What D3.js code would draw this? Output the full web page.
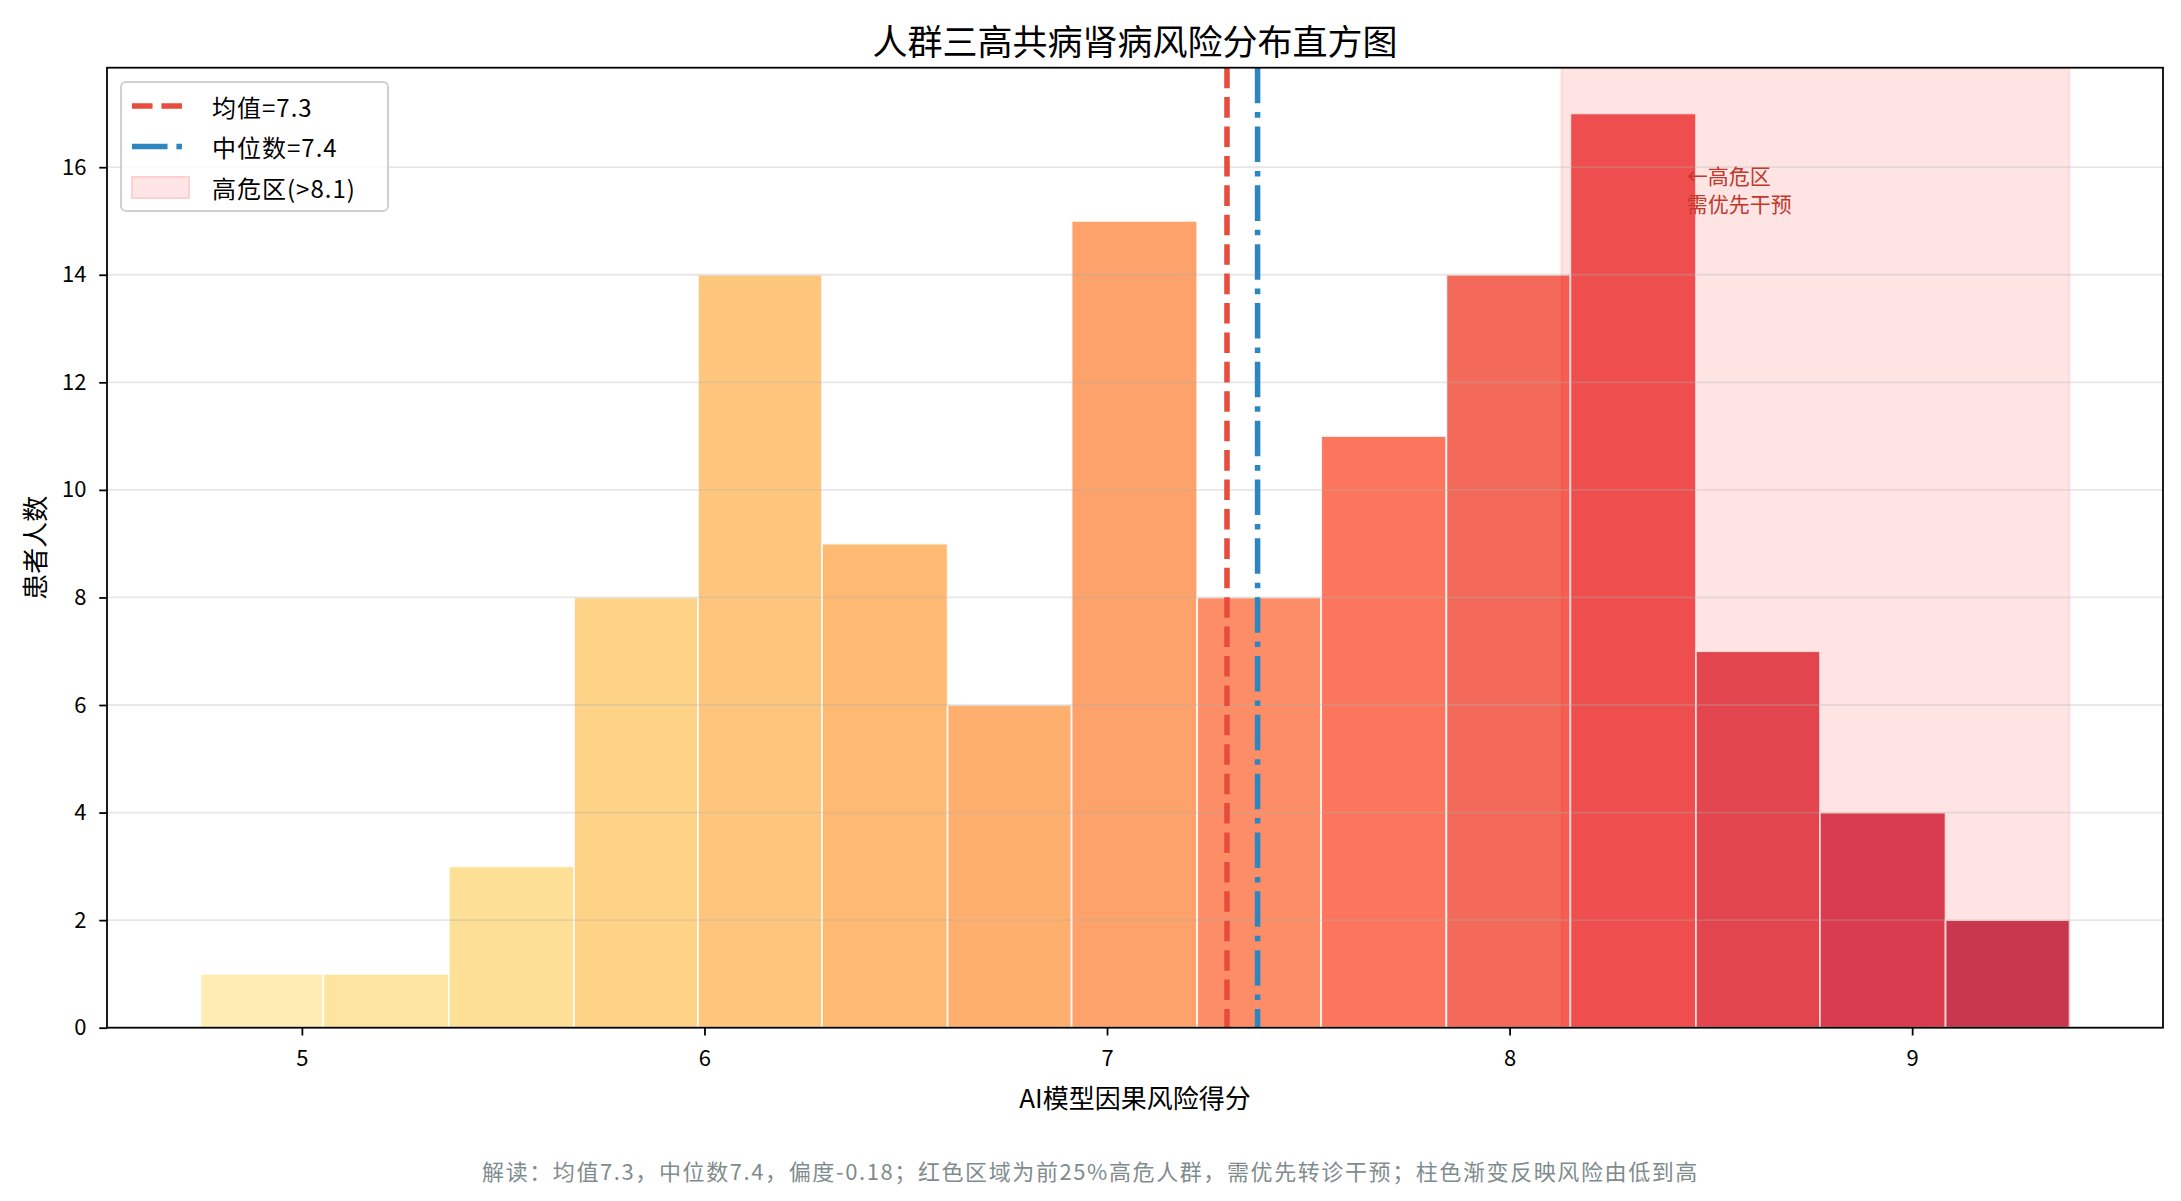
<!DOCTYPE html>
<html>
<head>
<meta charset="utf-8">
<script src="https://cdn.jsdelivr.net/npm/d3@7"></script>
<style>
    html, body { margin: 0; padding: 0; background: #fff; }
    #chart text { font-family: "Noto Sans CJK SC", "Noto Sans", sans-serif; }
</style>
</head>
<body>
<div id="chart"></div>
<script>
// ==========================================
// 人群三高共病肾病风险分布直方图
// Library: D3.js v7
// ==========================================

// --- DATA ---
const binEdges = [4.748, 5.053, 5.365, 5.676, 5.984, 6.292, 6.604, 6.912,
                  7.224, 7.532, 7.843, 8.151, 8.463, 8.771, 9.083, 9.391];
const binCounts = [1, 1, 3, 8, 14, 9, 6, 15, 8, 11, 14, 17, 7, 4, 2];
const meanScore = 7.298;
const medianScore = 7.374;
const p75Score = 8.129;
const skewness = -0.18;
const xTicks = [5, 6, 7, 8, 9];
const yTicks = [0, 2, 4, 6, 8, 10, 12, 14, 16];
const annotPos = [8.44, 15.85];

// bar palette, low risk -> high risk
const barColors = ["#feecb3", "#fde5a1", "#fddf95", "#fed287", "#fec67c",
                   "#feb973", "#feaf6e", "#fca26a", "#fd8d66", "#fc765d",
                   "#f36a5a", "#ed5858", "#df4e58", "#d54359", "#c23e58"];

const initChart = () => {
    const W = 2181, H = 1201;
    const m = { left: 107, right: 2163, top: 67.7, bottom: 1027.7 };
    const pt = 2.22; // px per point

    const svg = d3.select("#chart")
        .append("svg")
        .attr("width", W)
        .attr("height", H)
        .attr("viewBox", [0, 0, W, H]);

    const bins = binCounts.map((c, i) => ({ x0: binEdges[i], x1: binEdges[i + 1], n: c, i }));

    // matplotlib style 5% margins on x
    const lo = d3.min(binEdges), hi = d3.max(binEdges);
    const pad = (hi - lo) * 0.05;
    const x = d3.scaleLinear().domain([lo - pad, hi + pad]).range([m.left, m.right]);
    const yMax = d3.max(binCounts) * 1.05;
    const y = d3.scaleLinear().domain([0, yMax]).range([m.bottom, m.top]);

    // --- BARS ---
    svg.append("g")
        .selectAll("rect")
        .data(bins)
        .join("rect")
        .attr("x", d => x(d.x0))
        .attr("y", d => y(d.n))
        .attr("width", d => x(d.x1) - x(d.x0))
        .attr("height", d => y(0) - y(d.n))
        .attr("fill", d => barColors[d.i])
        .attr("stroke", "#fff")
        .attr("stroke-opacity", 0.85)
        .attr("stroke-width", 0.8 * pt);

    // --- HIGH RISK ZONE ---
    svg.append("rect")
        .attr("x", x(p75Score))
        .attr("y", m.top)
        .attr("width", x(hi) - x(p75Score))
        .attr("height", m.bottom - m.top)
        .attr("fill", "red")
        .attr("fill-opacity", 0.105)
        .attr("stroke", "red")
        .attr("stroke-opacity", 0.09)
        .attr("stroke-width", 2);

    // --- GRID (horizontal only, above bars) ---
    svg.append("g")
        .selectAll("line")
        .data(yTicks)
        .join("line")
        .attr("x1", m.left)
        .attr("x2", m.right)
        .attr("y1", d => y(d))
        .attr("y2", d => y(d))
        .attr("stroke", "#b0b0b0")
        .attr("stroke-opacity", 0.3)
        .attr("stroke-width", 0.8 * pt);

    // --- MEAN / MEDIAN ---
    const lw = 2.5 * pt;
    svg.append("line")
        .attr("x1", x(meanScore)).attr("x2", x(meanScore))
        .attr("y1", m.top).attr("y2", m.bottom)
        .attr("stroke", "#e74c3c")
        .attr("stroke-width", lw)
        .attr("stroke-dasharray", `${3.7 * lw},${1.6 * lw}`);

    svg.append("line")
        .attr("x1", x(medianScore)).attr("x2", x(medianScore))
        .attr("y1", m.top).attr("y2", m.bottom)
        .attr("stroke", "#2e86c1")
        .attr("stroke-width", lw)
        .attr("stroke-dasharray", `${6.4 * lw},${1.6 * lw},${1 * lw},${1.6 * lw}`);

    // --- AXES ---
    const tickLen = 3.5 * pt;
    const xAxis = svg.append("g")
        .attr("transform", `translate(0,${m.bottom})`)
        .call(d3.axisBottom(x).tickValues(xTicks).tickFormat(d3.format("d"))
            .tickSize(tickLen).tickPadding(3.5 * pt + 7).tickSizeOuter(0));
    const yAxis = svg.append("g")
        .attr("transform", `translate(${m.left},0)`)
        .call(d3.axisLeft(y).tickValues(yTicks).tickFormat(d3.format("d"))
            .tickSize(tickLen).tickPadding(3.5 * pt + 5).tickSizeOuter(0));

    [xAxis, yAxis].forEach(g => {
        g.select(".domain").remove();
        g.selectAll(".tick line").attr("stroke", "#000").attr("stroke-width", 0.8 * pt);
        g.selectAll(".tick text")
            .attr("fill", "#000")
            .style("font-size", "22px");
    });

    // spines
    svg.append("rect")
        .attr("x", m.left).attr("y", m.top)
        .attr("width", m.right - m.left).attr("height", m.bottom - m.top)
        .attr("fill", "none")
        .attr("stroke", "#000")
        .attr("stroke-width", 0.8 * pt);

    // --- TEXTS ---
    svg.append("text")
        .attr("x", (m.left + m.right) / 2)
        .attr("y", 39)
        .attr("text-anchor", "middle")
        .attr("dominant-baseline", "central")
        .style("font-size", "35px")
        .text("人群三高共病肾病风险分布直方图");

    svg.append("text")
        .attr("x", (m.left + m.right) / 2)
        .attr("y", 1096)
        .attr("text-anchor", "middle")
        .attr("dominant-baseline", "central")
        .style("font-size", "26px")
        .text("AI模型因果风险得分");

    svg.append("text")
        .attr("transform", `translate(33,${(m.top + m.bottom) / 2}) rotate(-90)`)
        .attr("text-anchor", "middle")
        .attr("dominant-baseline", "central")
        .style("font-size", "26px")
        .text("患者人数");

    svg.append("text")
        .attr("x", W / 2)
        .attr("y", 1170)
        .attr("text-anchor", "middle")
        .attr("dominant-baseline", "central")
        .attr("fill", "#7f8c8d")
        .style("font-size", "22px")
        .style("letter-spacing", "1.6px")
        .text(`解读：均值${meanScore.toFixed(1)}，中位数${medianScore.toFixed(1)}，偏度${skewness.toFixed(2)}；红色区域为前25%高危人群，需优先转诊干预；柱色渐变反映风险由低到高`);

    // annotation (two lines, left aligned)
    const annotLines = ["←高危区", "需优先干预"];
    svg.append("g")
        .selectAll("text")
        .data(annotLines)
        .join("text")
        .attr("x", x(annotPos[0]))
        .attr("y", (d, i) => y(annotPos[1]) + i * 28)
        .attr("dominant-baseline", "central")
        .attr("fill", "#c0392b")
        .style("font-size", "21px")
        .text(d => d);

    // --- LEGEND ---
    const leg = svg.append("g").attr("transform", "translate(121,82)");
    leg.append("rect")
        .attr("width", 267).attr("height", 129)
        .attr("rx", 5)
        .attr("fill", "#fff").attr("fill-opacity", 0.8)
        .attr("stroke", "#d0d0d0").attr("stroke-width", 2);

    const legItems = [
        { label: `均值=${meanScore.toFixed(1)}`, kind: "mean" },
        { label: `中位数=${medianScore.toFixed(1)}`, kind: "median" },
        { label: `高危区(>${p75Score.toFixed(1)})`, kind: "zone" }
    ];
    const row = leg.selectAll("g.item")
        .data(legItems)
        .join("g")
        .attr("class", "item")
        .attr("transform", (d, i) => `translate(0,${24 + i * 40.5})`);

    row.filter(d => d.kind === "mean").append("line")
        .attr("x1", 11).attr("x2", 62)
        .attr("stroke", "#e74c3c").attr("stroke-width", lw)
        .attr("stroke-dasharray", `${3.7 * lw},${1.6 * lw}`);
    row.filter(d => d.kind === "median").append("line")
        .attr("x1", 11).attr("x2", 62)
        .attr("stroke", "#2e86c1").attr("stroke-width", lw)
        .attr("stroke-dasharray", `${6.4 * lw},${1.6 * lw},${1 * lw},${1.6 * lw}`);
    row.filter(d => d.kind === "zone").append("rect")
        .attr("x", 11).attr("y", -10).attr("width", 57).attr("height", 21)
        .attr("fill", "#ffe5e5")
        .attr("stroke", "#ffd0d0").attr("stroke-width", 2);

    row.append("text")
        .attr("x", 91)
        .attr("dominant-baseline", "central")
        .style("font-size", "24px")
        .style("letter-spacing", "1px")
        .text(d => d.label);
};

document.addEventListener("DOMContentLoaded", initChart);
</script>
</body>
</html>
